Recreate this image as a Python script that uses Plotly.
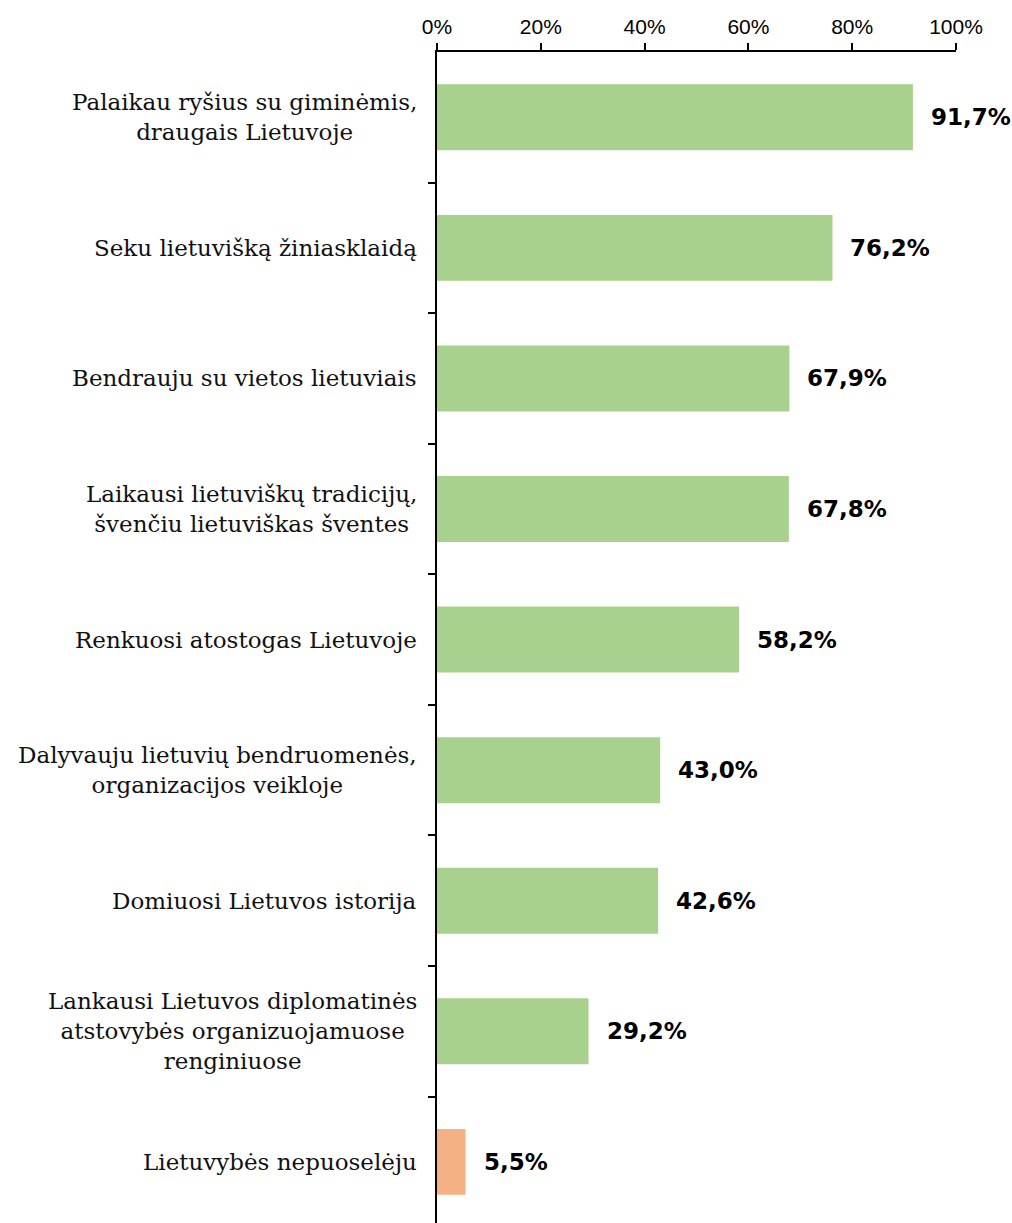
import plotly.graph_objects as go

categories = [
    "Palaikau ryšius su giminėmis,<br>draugais Lietuvoje",
    "Seku lietuvišką žiniasklaidą",
    "Bendrauju su vietos lietuviais",
    "Laikausi lietuviškų tradicijų,<br>švenčiu lietuviškas šventes",
    "Renkuosi atostogas Lietuvoje",
    "Dalyvauju lietuvių bendruomenės,<br>organizacijos veikloje",
    "Domiuosi Lietuvos istorija",
    "Lankausi Lietuvos diplomatinės<br>atstovybės organizuojamuose<br>renginiuose",
    "Lietuvybės nepuoselėju",
]
values = [0.917, 0.762, 0.679, 0.678, 0.582, 0.430, 0.426, 0.292, 0.055]
value_labels = ["91,7%", "76,2%", "67,9%", "67,8%", "58,2%", "43,0%", "42,6%", "29,2%", "5,5%"]
tick_vals = [0, 0.2, 0.4, 0.6, 0.8, 1.0]
tick_text = ["0%", "20%", "40%", "60%", "80%", "100%"]

GREEN = "#A9D18E"
ORANGE = "#F4B183"
colors = [GREEN] * (len(values) - 1) + [ORANGE]

idx = list(range(len(categories)))

fig = go.Figure()
fig.add_trace(go.Bar(
    x=values, y=idx, orientation="h",
    marker=dict(color=colors, line=dict(width=0)),
    hoverinfo="skip",
))

annotations = []
for i, (v, lab) in enumerate(zip(values, value_labels)):
    annotations.append(dict(
        x=v, y=i, xref="x", yref="y", text=f"<b>{lab}</b>",
        showarrow=False, xanchor="left", xshift=16,
        font=dict(family="DejaVu Sans", size=23, color="black"),
    ))
for i, cat in enumerate(categories):
    annotations.append(dict(
        x=0, y=i, xref="paper", yref="y", text=cat,
        showarrow=False, xanchor="right", xshift=-18, align="center",
        font=dict(family="DejaVu Serif", size=23, color="#111111"),
    ))

fig.update_layout(
    width=1012, height=1223,
    margin=dict(l=437, r=56, t=52, b=0, pad=0),
    plot_bgcolor="white", paper_bgcolor="white",
    showlegend=False,
    bargap=0.495,
    annotations=annotations,
    xaxis=dict(
        side="top", range=[0, 1], tickvals=tick_vals, ticktext=tick_text,
        showgrid=False, zeroline=False, showline=True, linecolor="black", linewidth=1.5,
        ticks="outside", ticklen=7, tickwidth=1.5, tickcolor="black",
        tickfont=dict(family="Liberation Sans", size=21, color="black"),
        ticklabelstandoff=1,
        fixedrange=True,
    ),
    yaxis=dict(
        type="linear", range=[8.468, -0.5],
        tickvals=[i + 0.5 for i in idx[:-1]], ticktext=[""] * (len(idx) - 1),
        showgrid=False, zeroline=False, showline=True, linecolor="black", linewidth=1.5,
        ticks="outside", ticklen=7, tickwidth=1.5, tickcolor="black",
        fixedrange=True,
    ),
)

fig.write_html(
    "out.html",
    config={"displayModeBar": False},
    post_script="document.body.style.margin='0';document.body.style.overflow='hidden';",
)
